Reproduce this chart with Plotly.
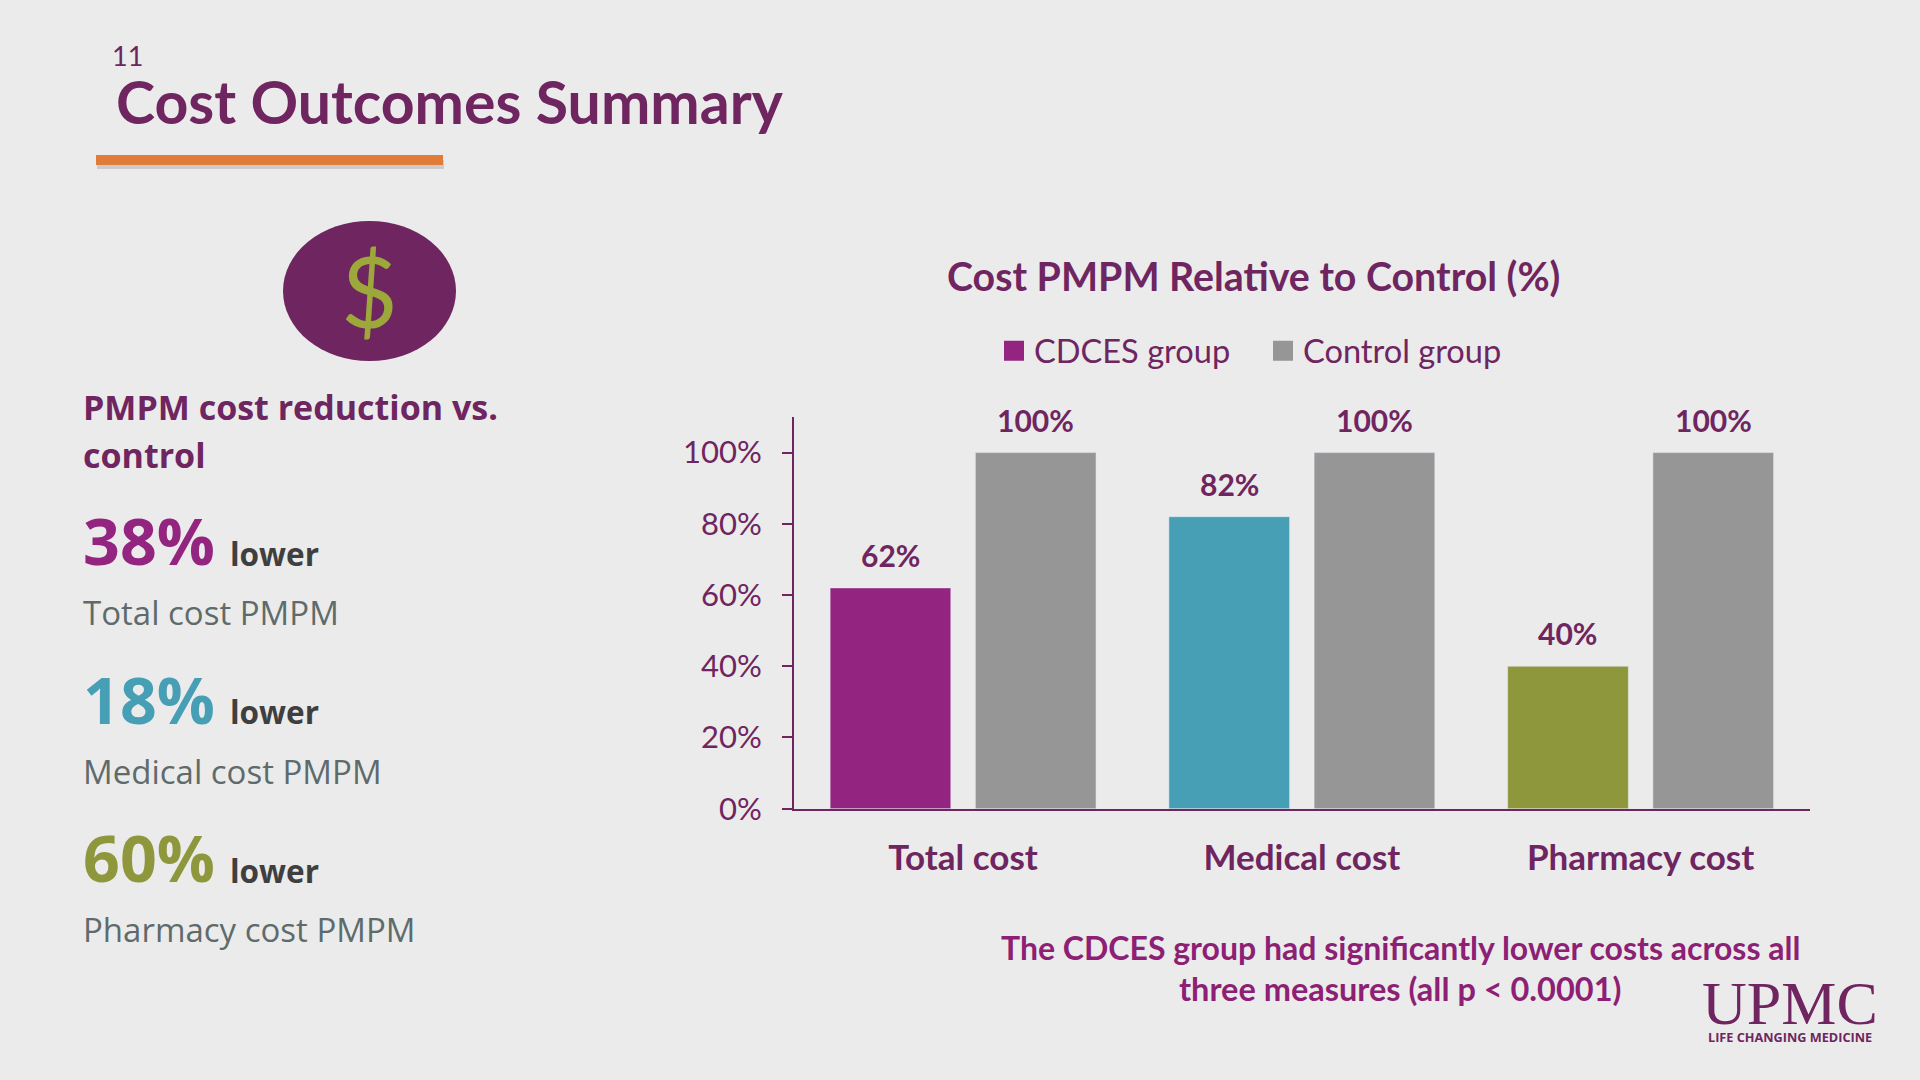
import plotly.graph_objects as go

categories = ["Total cost", "Medical cost", "Pharmacy cost"]
cdces_values = [62, 82, 40]
control_values = [100, 100, 100]
cdces_colors = ["#93247f", "#479fb5", "#8e973c"]
control_color = "#969696"
y_ticks = [0, 20, 40, 60, 80, 100]
y_tick_labels = ["0%", "20%", "40%", "60%", "80%", "100%"]
reductions = ["38%", "18%", "60%"]
reduction_labels = ["Total cost PMPM", "Medical cost PMPM", "Pharmacy cost PMPM"]

W, H = 1920, 1080
PLUM = "#6f2560"
BG = "#ebebeb"
SANS = "Lato"
WIDE = "Open Sans"


def px(x):
    return x / W


def py(y):
    return 1 - y / H


def label(text, x, y, size, color, family=SANS, anchor="left"):
    return dict(text=text, x=px(x), y=py(y), xref="paper", yref="paper", xanchor=anchor,
                yanchor="middle", showarrow=False, font=dict(size=size, color=color, family=family))


fig = go.Figure()
fig.add_bar(x=categories, y=cdces_values, marker=dict(color=cdces_colors), showlegend=False, name="CDCES group")
fig.add_bar(x=categories, y=control_values, marker=dict(color=control_color), showlegend=False, name="Control group")
# legend keys at the reference's larger swatch size
fig.add_scatter(x=[None], y=[None], mode="markers", name="CDCES group",
                marker=dict(symbol="square", size=16, color=cdces_colors[0], line=dict(width=4, color=cdces_colors[0])))
fig.add_scatter(x=[None], y=[None], mode="markers", name="Control group",
                marker=dict(symbol="square", size=16, color=control_color, line=dict(width=4, color=control_color)))

annotations = [
    label("11", 110, 55, 27, PLUM),
    label("<b>Cost Outcomes Summary</b>", 114, 101, 59, PLUM),
    label("$", 369, 290, 98, "#9ca83a", anchor="center"),
    label("<b>PMPM cost reduction vs.</b>", 81, 407, 34, PLUM, WIDE),
    label("<b>control</b>", 81, 455, 34, PLUM, WIDE),
    label("<b>Cost PMPM Relative to Control (%)</b>", 1253, 275, 39.3, PLUM, anchor="center"),
    label("<b>The CDCES group had significantly lower costs across all</b>", 1400, 947, 32, "#8d1f74", anchor="center"),
    label("<b>three measures (all p &lt; 0.0001)</b>", 1400, 988, 32.5, "#8d1f74", anchor="center"),
    label("UPMC", 1790, 1003, 62, PLUM, "Liberation Serif", anchor="center"),
    label("<b>LIFE CHANGING MEDICINE</b>", 1790, 1037, 12.7, PLUM, WIDE, anchor="center"),
]

for i, (pct, desc) in enumerate(zip(reductions, reduction_labels)):
    top = 540 + i * 158.5
    annotations.append(label(f"<b>{pct}</b>", 81, top, 64.5, cdces_colors[i], WIDE))
    annotations.append(label("<b>lower</b>", 228, top + 13, 31.5, "#3f3f3f", WIDE))
    annotations.append(label(desc, 81, top + 72.5, 33, "#5f6b6b", WIDE))

for i, cat in enumerate(categories):
    for offset, v in ((-0.2144, cdces_values[i]), (0.2144, control_values[i])):
        annotations.append(dict(text=f"<b>{v}%</b>", x=i + offset, y=v, xref="x", yref="y", xanchor="center",
                                yanchor="bottom", yshift=13, showarrow=False,
                                font=dict(size=30, color=PLUM, family=SANS)))

shapes = [
    dict(type="rect", xref="paper", yref="paper", x0=px(97), x1=px(444), y0=py(169), y1=py(160),
         fillcolor="rgba(90,90,90,0.22)", line_width=0, layer="below"),
    dict(type="rect", xref="paper", yref="paper", x0=px(96), x1=px(443), y0=py(165), y1=py(155),
         fillcolor="#e07b39", line_width=0, layer="below"),
    dict(type="circle", xref="paper", yref="paper", x0=px(283), x1=px(456), y0=py(361), y1=py(221),
         fillcolor=PLUM, line_width=0, layer="below"),
]

fig.update_layout(
    width=W, height=H, margin=dict(l=0, r=0, t=0, b=0), autosize=False,
    paper_bgcolor=BG, plot_bgcolor=BG, barmode="group", bargap=0.1426, bargroupgap=0.169,
    font=dict(family=SANS, color=PLUM),
    annotations=annotations, shapes=shapes,
    legend=dict(orientation="h", x=px(994), y=py(351), xanchor="left", yanchor="middle",
                entrywidth=224, entrywidthmode="pixels",
                font=dict(size=32.6, color=PLUM, family=SANS), bgcolor="rgba(0,0,0,0)"),
    xaxis=dict(domain=[px(793.7), px(1810)], automargin=False, showgrid=False, zeroline=False, showline=True,
               linecolor=PLUM, linewidth=1.5, ticks="", ticklabelstandoff=18,
               tickmode="array", tickvals=categories, ticktext=[f"<b>{c}</b>" for c in categories],
               tickfont=dict(size=35, color=PLUM, family=SANS), anchor="y"),
    yaxis=dict(domain=[py(808.7), py(417)], automargin=False, range=[0, 110], tickmode="array", tickvals=y_ticks,
               ticktext=y_tick_labels, showgrid=False,
               zeroline=False, showline=True, linecolor=PLUM, linewidth=1.5, ticks="outside", ticklen=10,
               tickcolor=PLUM, tickwidth=1.5, ticklabelstandoff=14, tickfont=dict(size=31, color=PLUM, family=SANS),
               anchor="x"),
)

fig.write_html("out.html", config={"displayModeBar": False},
               post_script="document.body.style.margin='0';document.documentElement.style.overflow='hidden';")
